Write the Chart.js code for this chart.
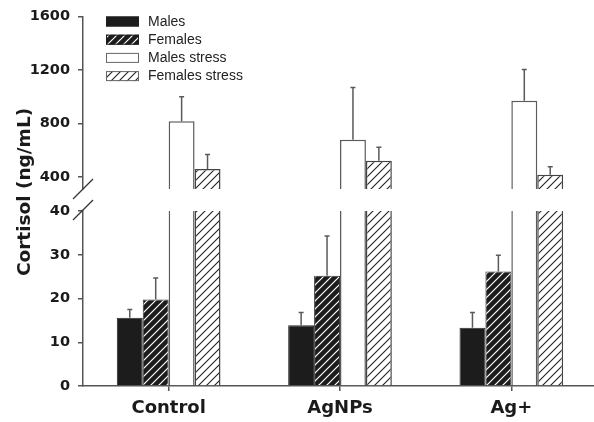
<!DOCTYPE html>
<html>
<head>
<meta charset="utf-8">
<script src="https://cdn.jsdelivr.net/npm/chart.js@4.4.1/dist/chart.umd.min.js"></script>
<style>
  html, body { margin: 0; padding: 0; background: #fff; overflow: hidden; }
  #wrap { position: relative; width: 594px; height: 422px; overflow: hidden; }
  #wrap canvas { position: absolute; left: 0; top: 0; }
</style>
</head>
<body>
<div id="wrap">
  <canvas id="upper" width="598" height="422"></canvas>
  <canvas id="lower" width="598" height="422"></canvas>
</div>
<script>
// Cortisol (ng/mL) by treatment, mean with upward SE whisker
const categories = ['Control', 'AgNPs', 'Ag+'];
const seriesNames = ['Males', 'Females', 'Males stress', 'Females stress'];

const males = [15.6, 13.9, 13.3];
const malesErr = [1.9, 2.9, 3.5];
const females = [19.8, 25.2, 26.2];
const femalesErr = [4.9, 9.1, 3.7];
const malesStress = [817, 679, 970];
const malesStressErr = [183, 390, 235];
const femalesStress = [459, 521, 417];
const femalesStressErr = [109, 101, 59];

// broken value axis: lower segment and upper segment
const lowTicks = [0, 10, 20, 30, 40];
const highTicks = [400, 800, 1200, 1600];
const lowRange = [0, 40];
const highRange = [310, 1600];

const AXIS = '#555';
const TICK_FONT = { family: 'DejaVu Sans', weight: 'bold', size: 14.5 };
const CAT_FONT = { family: 'DejaVu Sans', weight: 'bold', size: 18 };

function hatch(bg, fg, step, width) {
  const c = document.createElement('canvas');
  c.width = step; c.height = step;
  const g = c.getContext('2d');
  g.fillStyle = bg; g.fillRect(0, 0, step, step);
  g.strokeStyle = fg; g.lineWidth = width;
  g.beginPath();
  g.moveTo(-1, step + 1); g.lineTo(step + 1, -1);
  g.moveTo(-2, 2); g.lineTo(2, -2);
  g.moveTo(step - 2, step + 2); g.lineTo(step + 2, step - 2);
  g.stroke();
  return g.createPattern(c, 'repeat');
}
const darkHatch = hatch('#1c1c1c', '#ffffff', 8, 1.2);
const lightHatch = hatch('#ffffff', '#222222', 8, 1.1);

function makeDatasets() {
  return [
    { label: seriesNames[0], data: males, errors: malesErr,
      backgroundColor: '#1c1c1c', borderColor: '#2a2a2a', borderWidth: 1, clip: 0 },
    { label: seriesNames[1], data: females, errors: femalesErr,
      backgroundColor: darkHatch, borderColor: '#3a3a3a', borderWidth: 1, clip: 0 },
    { label: seriesNames[2], data: malesStress, errors: malesStressErr,
      backgroundColor: '#ffffff', borderColor: '#5a5a5a', borderWidth: 1.5, clip: 0 },
    { label: seriesNames[3], data: femalesStress, errors: femalesStressErr,
      backgroundColor: lightHatch, borderColor: '#444', borderWidth: 1.5, clip: 0 }
  ];
}

// upward whiskers with a short cap, only for bars whose top lies in this segment
const errorBars = {
  id: 'errorBars',
  afterDatasetsDraw(chart) {
    const { ctx } = chart;
    const y = chart.scales.y;
    ctx.save();
    ctx.strokeStyle = '#5a5a5a';
    ctx.lineWidth = 1.5;
    chart.data.datasets.forEach((ds, di) => {
      const meta = chart.getDatasetMeta(di);
      meta.data.forEach((bar, i) => {
        const v = ds.data[i];
        if (v < y.min || v > y.max) return;
        const top = y.getPixelForValue(v + ds.errors[i]);
        ctx.beginPath();
        ctx.moveTo(bar.x, bar.y);
        ctx.lineTo(bar.x, top);
        ctx.moveTo(bar.x - 2.5, top);
        ctx.lineTo(bar.x + 2.5, top);
        ctx.stroke();
      });
    });
    ctx.restore();
  }
};

// slash marking the break in the value axis
function breakMark(edge) {
  return {
    id: 'breakMark',
    afterDraw(chart) {
      const { ctx, chartArea } = chart;
      const x = chartArea.left;
      const y = edge === 'bottom' ? chartArea.bottom : chartArea.top - 1;
      ctx.save();
      ctx.strokeStyle = '#333';
      ctx.lineWidth = 1.2;
      ctx.beginPath();
      ctx.moveTo(x - 10, y + 10);
      ctx.lineTo(x + 10, y - 10);
      ctx.stroke();
      ctx.restore();
    }
  };
}

const legendBox = {
  id: 'legendBox',
  afterDraw(chart) {
    const { ctx } = chart;
    ctx.save();
    ctx.font = '14px "Liberation Sans", Arial, sans-serif';
    ctx.textBaseline = 'middle';
    chart.data.datasets.forEach((ds, i) => {
      const cy = 21.5 + i * 18.2;
      const x = 106, w = 33, h = 10;
      ctx.fillStyle = ds.backgroundColor;
      ctx.fillRect(x, cy - h / 2, w, h);
      ctx.strokeStyle = i < 2 ? '#1c1c1c' : '#666';
      ctx.lineWidth = 1;
      ctx.strokeRect(x + 0.5, cy - h / 2 + 0.5, w - 1, h - 1);
      ctx.fillStyle = '#222';
      ctx.fillText(ds.label, 148, cy + 0.5);
    });
    ctx.restore();
  }
};

const axisTitle = {
  id: 'axisTitle',
  afterDraw(chart) {
    const { ctx } = chart;
    ctx.save();
    ctx.translate(30, 192);
    ctx.rotate(-Math.PI / 2);
    ctx.font = 'bold 18.5px "DejaVu Sans", sans-serif';
    ctx.fillStyle = '#1a1a1a';
    ctx.textAlign = 'center';
    ctx.textBaseline = 'alphabetic';
    ctx.fillText('Cortisol (ng/mL)', 0, 0);
    ctx.restore();
  }
};

function yScale(range, ticks) {
  return {
    type: 'linear',
    min: range[0],
    max: range[1],
    afterBuildTicks: s => { s.ticks = ticks.map(v => ({ value: v })); },
    afterFit: s => { s.width = 83; },
    grid: { drawOnChartArea: false, drawTicks: true, tickLength: 5, color: AXIS, lineWidth: 1.5 },
    border: { display: true, color: AXIS, width: 1.5 },
    ticks: { font: TICK_FONT, color: '#1a1a1a', padding: 8, callback: v => String(v) }
  };
}

const common = {
  responsive: false,
  animation: false,
  events: [],
  datasets: { bar: { categoryPercentage: 0.605, barPercentage: 1.0 } },
  plugins: { legend: { display: false }, tooltip: { enabled: false } }
};

// upper segment of the broken axis
new Chart(document.getElementById('upper'), {
  type: 'bar',
  data: { labels: categories, datasets: makeDatasets() },
  options: Object.assign({}, common, {
    layout: { padding: { left: 0, right: 1, top: 15, bottom: 233 } },
    scales: {
      x: { type: 'category', display: false, offset: true, grid: { offset: false } },
      y: yScale(highRange, highTicks)
    }
  }),
  plugins: [errorBars, breakMark('bottom'), legendBox]
});

// lower segment with the category axis
new Chart(document.getElementById('lower'), {
  type: 'bar',
  data: { labels: categories, datasets: makeDatasets() },
  options: Object.assign({}, common, {
    layout: { padding: { left: 0, right: 1, top: 211, bottom: 0 } },
    scales: {
      x: {
        type: 'category',
        offset: true,
        afterFit: s => { s.height = 36; },
        grid: { offset: false, drawOnChartArea: false, drawTicks: true, tickLength: 5, color: AXIS, lineWidth: 1.5 },
        border: { display: true, color: AXIS, width: 1.5 },
        ticks: { font: CAT_FONT, color: '#1a1a1a', padding: 7, maxRotation: 0, autoSkip: false }
      },
      y: yScale(lowRange, lowTicks)
    }
  }),
  plugins: [errorBars, breakMark('top'), axisTitle]
});
</script>
</body>
</html>
